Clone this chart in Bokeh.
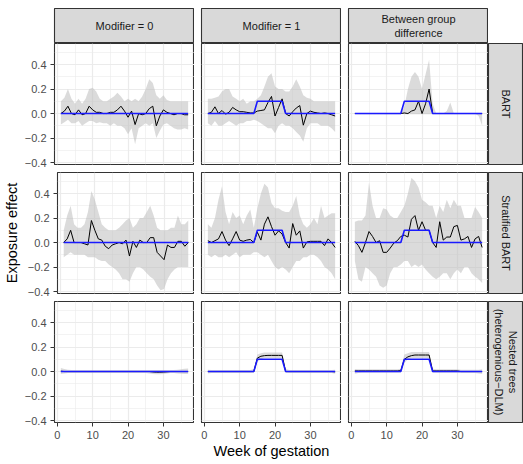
import math
from bokeh.plotting import figure
from bokeh.layouts import row, column
from bokeh.models import Range1d, FixedTicker, Spacer
from bokeh.core.properties import value
from bokeh.embed import file_html
from bokeh.resources import INLINE

weeks = [1, 2, 3, 4, 5, 6, 7, 8, 9, 10, 11, 12, 13, 14, 15, 16, 17, 18, 19, 20,
         21, 22, 23, 24, 25, 26, 27, 28, 29, 30, 31, 32, 33, 34, 35, 36, 37]

col_labels = ["Modifier = 0", "Modifier = 1", "Between group\ndifference"]
row_labels = ["BART", "Stratified BART", "Nested trees\n(heterogenious\u2212DLM)"]
x_title = "Week of gestation"
y_title = "Exposure effect"
x_ticks = [0, 10, 20, 30]
x_minor = [5, 15, 25, 35]
y_ticks = [-0.4, -0.2, 0.0, 0.2, 0.4]
y_tick_labels = ["\u22120.4", "\u22120.2", "0.0", "0.2", "0.4"]
y_minor = [-0.3, -0.1, 0.1, 0.3, 0.5]

# true effects
truth_m0 = [0.0, 0.0, 0.0, 0.0, 0.0, 0.0, 0.0, 0.0, 0.0, 0.0, 0.0, 0.0, 0.0, 0.0, 0.0, 0.0, 0.0, 0.0, 0.0,
            0.0, 0.0, 0.0, 0.0, 0.0, 0.0, 0.0, 0.0, 0.0, 0.0, 0.0, 0.0, 0.0, 0.0, 0.0, 0.0, 0.0, 0.0]
truth_m1 = [0.0, 0.0, 0.0, 0.0, 0.0, 0.0, 0.0, 0.0, 0.0, 0.0, 0.0, 0.0, 0.0, 0.0, 0.1, 0.1, 0.1, 0.1, 0.1,
            0.1, 0.1, 0.1, 0.0, 0.0, 0.0, 0.0, 0.0, 0.0, 0.0, 0.0, 0.0, 0.0, 0.0, 0.0, 0.0, 0.0, 0.0]
truth_diff = [0.0, 0.0, 0.0, 0.0, 0.0, 0.0, 0.0, 0.0, 0.0, 0.0, 0.0, 0.0, 0.0, 0.0, 0.1, 0.1, 0.1, 0.1, 0.1,
              0.1, 0.1, 0.1, 0.0, 0.0, 0.0, 0.0, 0.0, 0.0, 0.0, 0.0, 0.0, 0.0, 0.0, 0.0, 0.0, 0.0, 0.0]

# BART
bart_m0_est = [0.00, 0.02, 0.06, 0.00, -0.01, 0.03, -0.01, 0.00, 0.06, 0.03,
               0.01, 0.01, 0.00, 0.00, 0.01, 0.01, 0.03, 0.06, 0.02, -0.03,
               0.02, -0.09, 0.00, -0.01, 0.00, 0.04, 0.06, -0.10, -0.02, 0.03,
               0.01, 0.00, -0.01, 0.00, 0.00, -0.01, -0.01]
bart_m0_hi = [0.10, 0.13, 0.20, 0.12, 0.08, 0.12, 0.08, 0.12, 0.20, 0.21,
              0.18, 0.12, 0.10, 0.10, 0.12, 0.14, 0.17, 0.14, 0.10, 0.12,
              0.10, 0.12, 0.10, 0.14, 0.20, 0.28, 0.25, 0.15, 0.12, 0.15,
              0.11, 0.10, 0.10, 0.10, 0.10, 0.10, 0.10]
bart_m0_lo = [-0.09, -0.07, -0.05, -0.08, -0.08, -0.06, -0.10, -0.08, -0.06, -0.06,
              -0.08, -0.07, -0.08, -0.08, -0.10, -0.08, -0.10, -0.10, -0.12, -0.17,
              -0.12, -0.25, -0.12, -0.10, -0.08, -0.10, -0.08, -0.20, -0.14, -0.09,
              -0.08, -0.10, -0.12, -0.13, -0.13, -0.12, -0.13]

bart_m1_est = [0.0, 0.01, 0.055, 0.0, 0.025, -0.005, 0.01, 0.05, 0.03, 0.015,
               0.015, 0.01, 0.005, 0.005, 0.02, 0.025, 0.03, 0.09, 0.14, -0.02,
               0.05, 0.12, 0.0, -0.02, 0.015, 0.045, 0.065, -0.095, 0.0, 0.02,
               0.01, 0.005, 0.0, 0.005, 0.0, -0.01, -0.02]
bart_m1_hi = [0.12, 0.12, 0.13, 0.14, 0.18, 0.20, 0.20, 0.14, 0.12, 0.10,
              0.12, 0.08, 0.10, 0.10, 0.12, 0.15, 0.22, 0.30, 0.33, 0.22,
              0.20, 0.20, 0.18, 0.18, 0.22, 0.28, 0.22, 0.15, 0.13, 0.12,
              0.10, 0.10, 0.10, 0.10, 0.10, 0.10, 0.10]
bart_m1_lo = [-0.08, -0.10, -0.06, -0.10, -0.10, -0.08, -0.06, -0.08, -0.10, -0.08,
              -0.08, -0.06, -0.06, -0.05, -0.06, -0.08, -0.10, -0.12, -0.12, -0.16,
              -0.10, -0.08, -0.10, -0.10, -0.12, -0.15, -0.18, -0.23, -0.12, -0.08,
              -0.08, -0.08, -0.10, -0.10, -0.10, -0.12, -0.15]

bart_diff_est = [0.0, 0.0, 0.0, 0.0, 0.0, 0.0, 0.0, 0.0, 0.0, 0.0,
                 0.0, 0.0, 0.0, 0.0, 0.005, 0.0, 0.02, 0.03, 0.10, 0.0,
                 0.08, 0.20, 0.0, 0.0, 0.0, 0.0, 0.0, 0.0, 0.0, 0.0,
                 0.0, 0.0, 0.0, 0.0, 0.0, 0.0, 0.0]
bart_diff_hi = [0.0, 0.0, 0.0, 0.0, 0.0, 0.0, 0.0, 0.0, 0.0, 0.0,
                0.0, 0.0, 0.0, 0.0, 0.06, 0.20, 0.30, 0.34, 0.30, 0.20,
                0.32, 0.44, 0.08, 0.0, 0.0, 0.0, 0.02, 0.09, 0.0, 0.0,
                0.0, 0.0, 0.0, 0.0, 0.0, 0.0, 0.0]
bart_diff_lo = [0.0, 0.0, 0.0, 0.0, 0.0, 0.0, 0.0, 0.0, 0.0, 0.0,
                0.0, 0.0, 0.0, 0.0, -0.005, -0.005, -0.005, -0.005, -0.005, -0.005,
                -0.005, -0.005, -0.005, 0.0, 0.0, 0.0, 0.0, 0.0, 0.0, 0.0,
                0.0, 0.0, 0.0, 0.0, 0.0, -0.02, -0.10]

# Stratified BART
strat_m0_est = [0.0, 0.03, 0.10, 0.0, 0.0, 0.0, -0.01, -0.02, 0.18, 0.10,
                0.03, 0.02, -0.03, -0.05, -0.02, -0.01, 0.0, -0.01, 0.02, -0.11,
                0.01, -0.04, 0.02, 0.0, 0.0, 0.04, 0.04, -0.08, -0.11, -0.14,
                -0.02, -0.04, -0.04, 0.01, 0.01, -0.03, 0.0]
strat_m0_hi = [0.10, 0.22, 0.30, 0.15, 0.12, 0.12, 0.15, 0.25, 0.42, 0.35,
               0.25, 0.15, 0.12, 0.10, 0.10, 0.10, 0.12, 0.15, 0.18, 0.20,
               0.12, 0.15, 0.20, 0.20, 0.25, 0.30, 0.22, 0.12, 0.10, 0.10,
               0.10, 0.12, 0.12, 0.22, 0.15, 0.15, 0.18]
strat_m0_lo = [-0.12, -0.10, -0.08, -0.10, -0.10, -0.10, -0.10, -0.12, -0.12, -0.12,
               -0.14, -0.15, -0.15, -0.18, -0.20, -0.22, -0.25, -0.30, -0.30, -0.32,
               -0.25, -0.20, -0.20, -0.22, -0.25, -0.28, -0.30, -0.35, -0.39, -0.38,
               -0.30, -0.25, -0.22, -0.20, -0.20, -0.20, -0.20]

strat_m1_est = [0.015, 0.0, 0.015, 0.03, 0.09, 0.02, -0.025, 0.03, 0.09, 0.02,
                0.01, 0.02, 0.025, 0.0, 0.085, 0.02, 0.15, 0.21, 0.13, 0.06,
                0.095, 0.07, 0.0, -0.045, 0.155, 0.06, 0.095, -0.045, 0.005, 0.01,
                0.01, 0.01, 0.01, -0.025, 0.03, 0.0, -0.04]
strat_m1_hi = [0.15, 0.12, 0.20, 0.35, 0.46, 0.25, 0.15, 0.25, 0.20, 0.22,
               0.15, 0.22, 0.27, 0.12, 0.28, 0.40, 0.48, 0.45, 0.32, 0.28,
               0.28, 0.26, 0.25, 0.25, 0.30, 0.38, 0.22, 0.15, 0.12, 0.15,
               0.20, 0.15, 0.30, 0.20, 0.22, 0.24, 0.24]
strat_m1_lo = [-0.10, -0.12, -0.10, -0.12, -0.12, -0.10, -0.12, -0.10, -0.08, -0.12,
               -0.10, -0.10, -0.10, -0.08, -0.08, -0.10, -0.12, -0.10, -0.15, -0.20,
               -0.22, -0.20, -0.22, -0.25, -0.20, -0.15, -0.15, -0.12, -0.12, -0.10,
               -0.10, -0.12, -0.15, -0.20, -0.22, -0.25, -0.30]

strat_diff_est = [0.01, -0.025, -0.08, 0.0, 0.09, 0.05, 0.0, 0.015, -0.08, -0.08,
                  -0.045, -0.005, 0.015, 0.05, 0.06, 0.045, 0.19, 0.22, 0.10, 0.17,
                  0.10, 0.10, 0.0, -0.04, 0.17, 0.02, 0.045, 0.045, 0.13, 0.14,
                  0.02, 0.03, 0.05, -0.04, 0.03, 0.05, -0.04]
strat_diff_hi = [0.17, 0.18, 0.18, 0.22, 0.49, 0.30, 0.20, 0.20, 0.28, 0.27,
                 0.22, 0.20, 0.20, 0.25, 0.30, 0.40, 0.53, 0.50, 0.45, 0.35,
                 0.33, 0.30, 0.30, 0.20, 0.30, 0.25, 0.35, 0.28, 0.35, 0.30,
                 0.30, 0.20, 0.20, 0.20, 0.29, 0.25, 0.20]
strat_diff_lo = [-0.15, -0.30, -0.32, -0.20, -0.22, -0.25, -0.28, -0.35, -0.37, -0.35,
                 -0.25, -0.20, -0.20, -0.18, -0.15, -0.15, -0.20, -0.18, -0.20, -0.18,
                 -0.22, -0.25, -0.28, -0.30, -0.28, -0.25, -0.25, -0.30, -0.25, -0.22,
                 -0.25, -0.20, -0.20, -0.25, -0.28, -0.30, -0.33]

# Nested trees (heterogenious-DLM)
nest_m0_est = [0.003, 0.0, 0.0, 0.0, 0.0, 0.0, 0.0, 0.0, 0.0, 0.0,
               0.0, 0.0, 0.0, 0.0, 0.0, 0.0, 0.0, 0.0, 0.0, 0.0,
               0.0, 0.0, 0.0, 0.0, 0.0, 0.0, -0.003, -0.005, -0.005, -0.004,
               -0.002, 0.0, 0.0, 0.0, 0.0, 0.0, 0.0]
nest_m0_hi = [0.03, 0.02, 0.015, 0.012, 0.012, 0.012, 0.012, 0.012, 0.012, 0.012,
              0.012, 0.012, 0.012, 0.012, 0.012, 0.012, 0.012, 0.012, 0.012, 0.012,
              0.012, 0.012, 0.012, 0.012, 0.012, 0.012, 0.012, 0.012, 0.012, 0.012,
              0.012, 0.012, 0.012, 0.015, 0.018, 0.022, 0.025]
nest_m0_lo = [-0.02, -0.015, -0.012, -0.012, -0.012, -0.012, -0.012, -0.012, -0.012, -0.012,
              -0.012, -0.012, -0.012, -0.012, -0.012, -0.012, -0.012, -0.012, -0.012, -0.012,
              -0.012, -0.012, -0.012, -0.012, -0.012, -0.015, -0.02, -0.022, -0.022, -0.02,
              -0.015, -0.012, -0.012, -0.015, -0.018, -0.02, -0.02]

nest_m1_est = [0.0, 0.0, 0.0, 0.0, 0.0, 0.0, 0.0, 0.0, 0.0, 0.0,
               0.0, 0.0, 0.0, 0.0, 0.11, 0.125, 0.13, 0.132, 0.132, 0.132,
               0.132, 0.132, 0.0, 0.0, 0.0, 0.0, 0.0, 0.0, 0.0, 0.0,
               0.0, 0.0, 0.0, 0.0, 0.0, 0.0, -0.002]
nest_m1_hi = [0.015, 0.012, 0.012, 0.012, 0.012, 0.012, 0.012, 0.012, 0.012, 0.012,
              0.012, 0.012, 0.012, 0.02, 0.14, 0.15, 0.155, 0.155, 0.155, 0.155,
              0.155, 0.155, 0.02, 0.012, 0.012, 0.012, 0.012, 0.012, 0.012, 0.012,
              0.012, 0.012, 0.012, 0.012, 0.012, 0.012, 0.015]
nest_m1_lo = [-0.015, -0.012, -0.012, -0.012, -0.012, -0.012, -0.012, -0.012, -0.012, -0.012,
              -0.012, -0.012, -0.012, -0.01, 0.08, 0.10, 0.11, 0.11, 0.11, 0.11,
              0.11, 0.11, -0.01, -0.012, -0.012, -0.012, -0.012, -0.012, -0.012, -0.012,
              -0.012, -0.012, -0.012, -0.012, -0.012, -0.012, -0.018]

nest_diff_est = [0.005, 0.005, 0.005, 0.005, 0.005, 0.005, 0.005, 0.005, 0.005, 0.005,
                 0.005, 0.005, 0.005, 0.008, 0.10, 0.12, 0.13, 0.135, 0.135, 0.135,
                 0.135, 0.135, 0.005, 0.005, 0.005, 0.005, 0.005, 0.005, 0.005, 0.005,
                 0.0, 0.0, 0.0, 0.0, 0.0, 0.0, 0.0]
nest_diff_hi = [0.02, 0.018, 0.018, 0.018, 0.018, 0.018, 0.018, 0.018, 0.018, 0.018,
                0.018, 0.018, 0.018, 0.022, 0.14, 0.15, 0.16, 0.16, 0.16, 0.16,
                0.16, 0.16, 0.022, 0.018, 0.018, 0.018, 0.018, 0.018, 0.018, 0.018,
                0.015, 0.015, 0.015, 0.015, 0.015, 0.015, 0.018]
nest_diff_lo = [-0.018, -0.012, -0.01, -0.01, -0.01, -0.01, -0.01, -0.01, -0.01, -0.01,
                -0.01, -0.01, -0.01, -0.008, 0.07, 0.10, 0.11, 0.11, 0.11, 0.11,
                0.11, 0.11, -0.01, -0.01, -0.01, -0.01, -0.01, -0.01, -0.01, -0.01,
                -0.012, -0.012, -0.012, -0.012, -0.012, -0.015, -0.02]

panels = [
    [(bart_m0_est, bart_m0_lo, bart_m0_hi, truth_m0),
     (bart_m1_est, bart_m1_lo, bart_m1_hi, truth_m1),
     (bart_diff_est, bart_diff_lo, bart_diff_hi, truth_diff)],
    [(strat_m0_est, strat_m0_lo, strat_m0_hi, truth_m0),
     (strat_m1_est, strat_m1_lo, strat_m1_hi, truth_m1),
     (strat_diff_est, strat_diff_lo, strat_diff_hi, truth_diff)],
    [(nest_m0_est, nest_m0_lo, nest_m0_hi, truth_m0),
     (nest_m1_est, nest_m1_lo, nest_m1_hi, truth_m1),
     (nest_diff_est, nest_diff_lo, nest_diff_hi, truth_diff)],
]

FONT = "Liberation Sans"
FW, FH = 140, 121
LEFT0, GAP, TOPSTRIP, RSTRIP, BOTTOM = 54, 7, 35, 35, 42
X0, X1 = -0.8, 38.8
Y0, Y1 = -0.416, 0.572


def borders(r, c):
    left = LEFT0 if c == 0 else GAP
    top = 0
    bottom = BOTTOM if r == 2 else 8
    return left, top, bottom


def make_panel(r, c):
    est, lo, hi, truth = panels[r][c]
    left, top, bottom = borders(r, c)
    p = figure(width=left + FW, height=top + FH + bottom,
               x_range=Range1d(X0, X1), y_range=Range1d(Y0, Y1),
               x_axis_location="below" if r == 2 else None,
               y_axis_location="left" if c == 0 else None,
               output_backend="svg", toolbar_location=None,
               min_border_left=left, min_border_right=0,
               min_border_top=top, min_border_bottom=bottom)
    p.background_fill_color = "white"
    p.border_fill_color = "white"
    p.outline_line_color = "#333333"
    p.outline_line_width = 1.1
    p.xgrid.ticker = FixedTicker(ticks=x_ticks, minor_ticks=x_minor)
    p.ygrid.ticker = FixedTicker(ticks=y_ticks, minor_ticks=y_minor)
    for g in (p.xgrid[0], p.ygrid[0]):
        g.grid_line_color = "#ebebeb"
        g.grid_line_width = 1.2
        g.minor_grid_line_color = "#ebebeb"
        g.minor_grid_line_width = 0.6
    for ax in p.axis:
        ax.axis_line_color = None
        ax.major_tick_line_color = "#333333"
        ax.major_tick_line_width = 1
        ax.major_tick_out = 4
        ax.major_tick_in = 0
        ax.minor_tick_line_color = None
        ax.major_label_standoff = 4
        ax.major_label_text_color = "#4d4d4d"
        ax.major_label_text_font = FONT
        ax.major_label_text_font_size = "11px"
        ax.axis_label_text_font = FONT
        ax.axis_label_text_font_style = "normal"
        ax.axis_label_text_font_size = "14.5px"
        ax.axis_label_text_color = "black"
    if r == 2:
        p.xaxis.ticker = FixedTicker(ticks=x_ticks)
        if c == 1:
            p.xaxis.axis_label = x_title
            p.xaxis.axis_label_standoff = 1
    if c == 0:
        p.yaxis.ticker = FixedTicker(ticks=y_ticks)
        p.yaxis.major_label_overrides = dict(zip(y_ticks, y_tick_labels))
        if r == 1:
            p.yaxis.axis_label = y_title
            p.yaxis.axis_label_standoff = 5
    p.varea(x=weeks, y1=lo, y2=hi, fill_color="#bdbdbd", fill_alpha=0.55)
    p.line(weeks, est, line_color="black", line_width=1)
    p.line(weeks, truth, line_color="#1a1aff", line_width=1.6)
    return p


def make_strip(width, height, left, top, bottom, label, angle):
    s = figure(width=width, height=height,
               x_range=Range1d(0, 1), y_range=Range1d(0, 1),
               x_axis_location=None, y_axis_location=None,
               output_backend="svg", toolbar_location=None,
               min_border_left=left, min_border_right=0,
               min_border_top=top, min_border_bottom=bottom)
    s.grid.visible = False
    s.background_fill_color = "#d9d9d9"
    s.border_fill_color = "white"
    s.outline_line_color = "#333333"
    s.outline_line_width = 1.1
    s.text(x=[0.5], y=[0.5], text=[label], angle=angle,
           text_align="center", text_baseline="middle",
           text_font=value(FONT), text_font_size="11px",
           text_color="#1a1a1a", text_line_height=1.1)
    return s


top_items = []
for c in range(3):
    left = LEFT0 if c == 0 else GAP
    top_items.append(make_strip(left + FW, 8 + TOPSTRIP, left, 8, 0, col_labels[c], 0))
top_items.append(Spacer(width=RSTRIP, height=8 + TOPSTRIP))

rows = [row(*top_items)]
for r in range(3):
    items = [make_panel(r, c) for c in range(3)]
    _, top, bottom = borders(r, 0)
    items.append(make_strip(RSTRIP, top + FH + bottom, 0, top, bottom,
                            row_labels[r], -math.pi / 2))
    rows.append(row(*items))

layout = column(*rows)

open("out.html", "w").write(file_html(layout, INLINE))
